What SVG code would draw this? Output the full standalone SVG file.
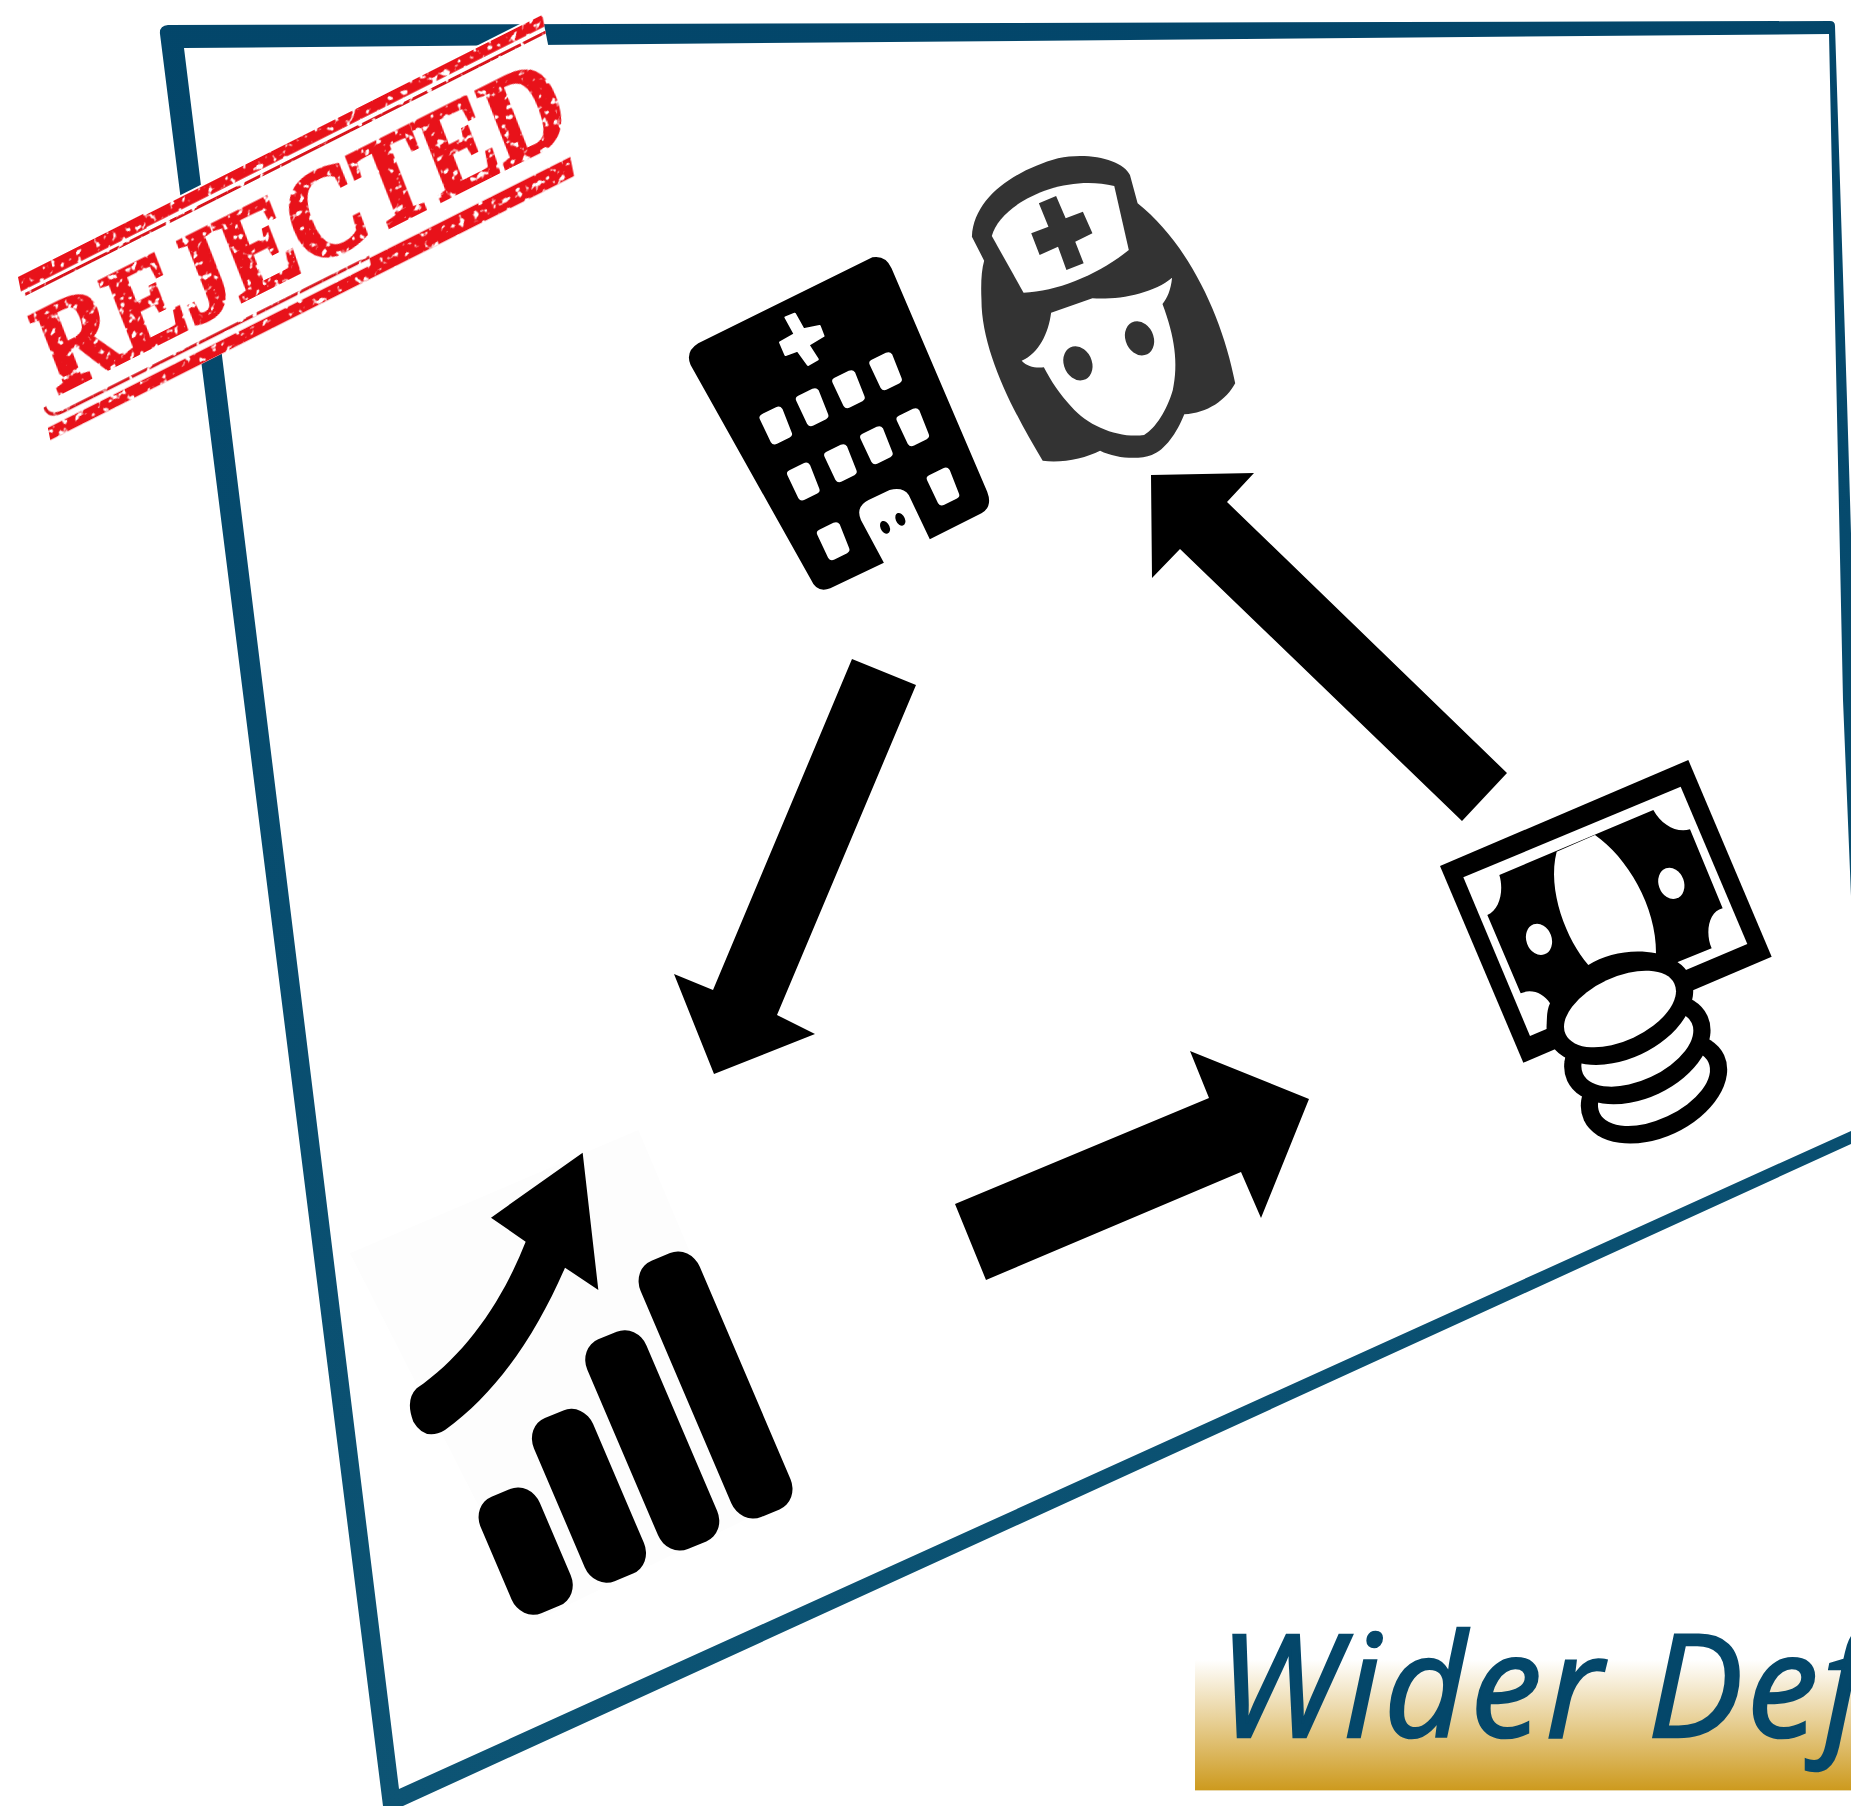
<svg xmlns="http://www.w3.org/2000/svg" width="1851" height="1806" viewBox="0 0 1851 1806">
<style>
.ink{fill:#000}
.nurse{fill:#333}
.paper{fill:#fff}
.win{fill:#fff;stroke:#fff;stroke-width:24;stroke-linejoin:round}
.cross{fill:#fff;stroke:#fff;stroke-width:6;stroke-linejoin:round}
.red{fill:#e8121a}
.redline{fill:none;stroke:#d8141c;stroke-width:3}
</style>
<defs>
<linearGradient id="gold" x1="0" y1="0" x2="0" y2="1"><stop offset="0" stop-color="#fff"/><stop offset="1" stop-color="#cd9a1e"/></linearGradient>
<linearGradient id="edge" gradientUnits="userSpaceOnUse" x1="0" y1="0" x2="0" y2="1806"><stop offset="0" stop-color="#03466a"/><stop offset="1" stop-color="#0d5474"/></linearGradient>
<filter id="worn" x="-5%" y="-5%" width="110%" height="110%" color-interpolation-filters="sRGB">
<feTurbulence type="fractalNoise" baseFrequency=".14" numOctaves="2" seed="7"/>
<feColorMatrix values="0 0 0 0 0 0 0 0 0 0 0 0 0 0 0 9 0 0 0 -2.6"/>
<feComposite in="SourceGraphic" operator="in"/>
<feGaussianBlur stdDeviation=".6"/>
</filter>
<path id="w" d="M-31 -24L6 -45L30 25L-3 44Z"/>
</defs>
<rect width="1851" height="1806" fill="#fff"/>
<g id="frame">
<path fill="url(#edge)" fill-rule="evenodd" d="M168 25L1830 21Q1835 21 1835 26L1838 120L1847 400L1853 600V1143L403 1806H383L160 34Q159 26 168 25ZM184 48L399 1789L1853 1130V945L1843 700L1829 34Z"/>
</g>
<g id="title">
<rect x="1195" y="1660" width="656" height="130" fill="url(#gold)"/>
<rect x="1195" y="1790" width="656" height="1" fill="#ead9ac"/>
<text x="1218" y="1737" font-family="'Open Sans',sans-serif" font-style="italic" font-size="143" letter-spacing="4" fill="#04476a" stroke="#04476a" stroke-width="2.5">Wider Def</text>
</g>
<g id="chart" transform="translate(350 1120) scale(.33333)">
<path fill="#fdfdfd" d="M865 30L1330 1130L560 1500L0 400Z"/>
<rect class="ink" x="-4" y="6" width="192" height="836" rx="66" ry="72" transform="matrix(.924 -.38 .393 .92 845 440)"/>
<rect class="ink" x="-4" y="6" width="192" height="684" rx="66" ry="72" transform="matrix(.924 -.38 .393 .92 685 676)"/>
<rect class="ink" x="-4" y="6" width="192" height="532" rx="66" ry="72" transform="matrix(.924 -.38 .393 .92 525 912)"/>
<rect class="ink" x="-4" y="6" width="192" height="380" rx="66" ry="72" transform="matrix(.924 -.38 .393 .92 365 1148)"/>
<path class="ink" d="M698 98L745 510L645 443C560 640 440 820 285 930Q225 965 190 905Q165 840 200 805C340 710 455 550 527 365L423 293Z"/>
</g>
<g id="hospital" transform="translate(660 130) scale(.3827 .33333)">
<path class="ink" d="M100 640L555 382Q590 375 605 415L855 1085Q870 1130 840 1150L705 1228L650 1095Q635 1070 600 1080L545 1110Q510 1130 525 1170L585 1298L445 1375Q410 1390 395 1350L80 705Q65 665 100 640Z"/>
<path class="cross" d="M328 562L352 551L375 598L417 588L427 618L388 645L412 688L387 705L360 662L328 675L314 637L352 612Z"/>
<use href="#w" class="win" x="303" y="887"/><use href="#w" class="win" x="398" y="832"/><use href="#w" class="win" x="493" y="778"/><use href="#w" class="win" x="590" y="724"/>
<use href="#w" class="win" x="375" y="1055"/><use href="#w" class="win" x="472" y="1000"/><use href="#w" class="win" x="566" y="946"/><use href="#w" class="win" x="661" y="892"/>
<use href="#w" class="win" x="453" y="1234"/><use href="#w" class="win" x="740" y="1070"/>
<ellipse class="ink" cx="588" cy="1192" rx="12" ry="20" transform="rotate(-20 588 1192)"/>
<ellipse class="ink" cx="628" cy="1168" rx="12" ry="20" transform="rotate(-20 628 1168)"/>
</g>
<g id="nurse" transform="translate(660 130) scale(.3827 .33333)">
<path class="nurse" d="M815 320C820 200 930 120 1040 85C1120 65 1210 90 1228 135L1248 220C1380 340 1470 560 1503 760C1480 810 1430 850 1370 853C1350 910 1320 960 1285 975C1250 990 1190 985 1150 962C1110 985 1050 1000 1000 992C920 840 840 660 840 510C838 460 840 420 847 392Z"/>
<path class="paper" d="M867 318C890 220 1050 130 1187 168L1225 360C1150 430 1040 485 950 488Z"/>
<path class="nurse" d="M990 220L1035 198L1060 265L1105 245L1130 310L1085 335L1107 400L1062 420L1040 350L992 375L970 310L1015 290Z"/>
<path class="paper" d="M945 692C990 670 1015 610 1022 548L1130 505C1200 510 1290 490 1338 443C1335 480 1325 505 1313 522C1345 620 1355 700 1340 780C1325 840 1295 895 1265 915C1200 925 1120 890 1075 830C1045 795 1020 750 1003 712C980 715 960 710 945 692Z"/>
<ellipse class="nurse" cx="1092" cy="700" rx="37" ry="52" transform="rotate(-15 1092 700)"/>
<ellipse class="nurse" cx="1253" cy="625" rx="37" ry="52" transform="rotate(-15 1253 625)"/>
</g>
<g id="money" transform="translate(1400 740) scale(.33333)">
<path class="ink" d="M120 378L865 60L1115 650L370 968Z"/>
<path class="paper" d="M190 412L842 140L1042 612L390 888Z"/>
<path class="ink" d="M298 405L760 210C785 255 830 280 870 268L968 505C925 515 915 580 935 625L700 720L450 900L440 868C440 840 440 810 450 790C430 760 395 745 362 760L262 525C300 510 312 450 298 405Z"/>
<path class="paper" d="M470 335L585 285C680 350 770 500 768 640C700 625 620 640 565 675C500 600 440 450 470 335Z"/>
<ellipse class="paper" cx="417" cy="598" rx="38" ry="48" transform="rotate(-20 417 598)"/>
<ellipse class="paper" cx="814" cy="430" rx="38" ry="48" transform="rotate(-20 814 430)"/>
<ellipse class="ink" cx="762" cy="1043" rx="232" ry="150" transform="rotate(-25 762 1043)"/>
<ellipse class="paper" cx="762" cy="1043" rx="180" ry="95" transform="rotate(-25 762 1043)"/>
<ellipse class="ink" cx="712" cy="925" rx="232" ry="150" transform="rotate(-25 712 925)"/>
<ellipse class="paper" cx="712" cy="925" rx="180" ry="95" transform="rotate(-25 712 925)"/>
<ellipse class="ink" cx="660" cy="807" rx="232" ry="150" transform="rotate(-25 660 807)"/>
<ellipse class="paper" cx="660" cy="807" rx="180" ry="95" transform="rotate(-25 660 807)"/>
</g>
<g id="connectors">
<polygon class="ink" points="1151,475 1254,473 1227,502 1507,773 1462,821 1180,549 1152,578"/>
<polygon class="ink" points="852,659 916,685 777,1015 815,1034 714,1074 674,974 713,990"/>
<polygon class="ink" points="955,1204 986,1280 1241,1172 1261,1218 1309,1099 1190,1051 1209,1098"/>
</g>
<g id="stamp" transform="matrix(.873 -.44 .19 .96 18 277)">
<path fill="#fff" d="M0 0H600V170H0Z"/>
<g filter="url(#worn)">
<path class="red" d="M0 0H144V15H0ZM144 2H600V14H144ZM370 150H600V170H370ZM0 157H370V170H0Z"/>
<path class="redline" d="M4 20H600M1 136Q3 149 20 149H370"/>
<text transform="translate(17 130) skewX(10)" font-family="'Liberation Serif',serif" font-weight="700" font-size="132" textLength="592" lengthAdjust="spacingAndGlyphs" class="red" stroke="#e8121a" stroke-width="4">REJECTED</text>
</g>
</g>
</svg>
